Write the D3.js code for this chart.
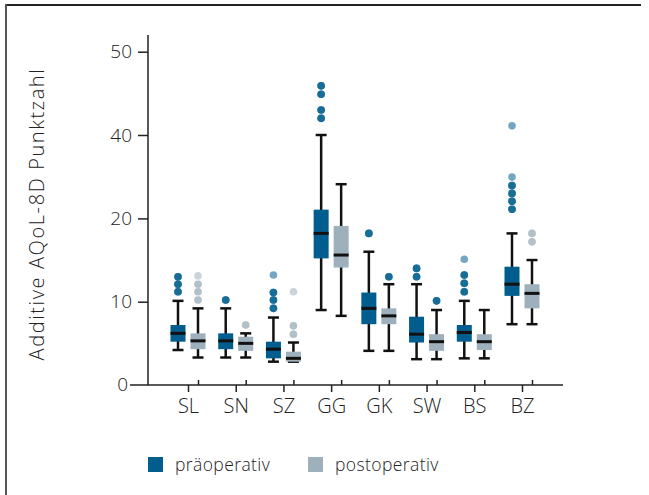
<!DOCTYPE html>
<html>
<head>
<meta charset="utf-8">
<script src="https://cdn.jsdelivr.net/npm/d3@7"></script>
<style>
  body { margin: 0; background: #fff; }
  svg text { font-family: "Open Sans", "Noto Sans", sans-serif; font-weight: 300; fill: #222; }
</style>
</head>
<body>
<div id="chart"></div>
<script>
// Categories and tick labels
const categories = ["SL", "SN", "SZ", "GG", "GK", "SW", "BS", "BZ"];
const yTicks = [0, 10, 20, 40, 50];

// präoperativ box statistics
const preLow = [4.2, 3.3, 2.8, 9.0, 4.1, 3.1, 3.2, 7.3];
const preQ1 = [5.2, 4.3, 3.2, 15.2, 7.3, 5.1, 5.2, 10.7];
const preMedian = [6.2, 5.3, 4.3, 18.2, 9.2, 6.1, 6.3, 12.1];
const preQ3 = [7.2, 6.2, 5.2, 22.1, 11.1, 8.2, 7.2, 14.2];
const preHigh = [10.1, 9.2, 8.1, 40, 16.0, 12.1, 10.1, 18.2];
// outliers (repeated values = overlapping points)
const preOutliers = [
  [13, 13, 13, 12.1, 12.1, 12.1, 11.2, 11.2, 11.2],
  [10.2, 10.2, 10.2],
  [13.2, 11.1, 11.1, 11.1, 10.2, 10.2, 10.2, 9.2, 9.2, 9.2],
  [45.9, 45.9, 45.9, 44.9, 44.9, 44.9, 43, 43, 43, 42, 42, 42],
  [18.2, 18.2, 18.2],
  [14, 14, 14, 13, 13, 13],
  [15.1, 13.2, 13.2, 13.2, 12.2, 12.2, 12.2, 11.2, 11.2, 11.2],
  [41.1, 29.9, 27.9, 27.9, 27.9, 26, 26, 26, 24.1, 24.1, 24.1, 22.2, 22.2, 22.2]
];

// postoperativ box statistics
const postLow = [3.3, 3.3, 2.8, 8.3, 4.1, 3.1, 3.2, 7.3];
const postQ1 = [4.3, 4.1, 2.8, 14.1, 7.3, 4.1, 4.2, 9.2];
const postMedian = [5.3, 5.0, 3.2, 15.6, 8.3, 5.2, 5.2, 11.0];
const postQ3 = [6.2, 5.8, 4.0, 19.1, 9.2, 6.1, 6.1, 12.1];
const postHigh = [9.2, 6.2, 5.1, 28.2, 12.1, 9.0, 9.0, 15.0];
const postOutliers = [
  [13.1, 12.1, 12.1, 11.2, 11.2, 10.2, 10.2],
  [7.2, 7.2],
  [11.2, 7.1, 7.1, 6.1, 6.1],
  [],
  [13.0, 13.0, 13.0],
  [10.1, 10.1, 10.1],
  [],
  [18.2, 18.2, 17.2, 17.2]
];
// post outliers drawn in the pre colour in the original figure
const postOutlierBlue = [false, false, false, false, true, true, false, false];

const seriesNames = ["präoperativ", "postoperativ"];
const colors = ["#005d8e", "#9eb0bb"];

const width = 649;
const height = 495;

const svg = d3.select("#chart").append("svg")
  .attr("width", width)
  .attr("height", height);

// frame
svg.append("line").attr("x1", 6).attr("x2", 641).attr("y1", 5).attr("y2", 5)
  .attr("stroke", "#222").attr("stroke-width", 2);
svg.append("line").attr("x1", 6).attr("x2", 6).attr("y1", 4).attr("y2", height)
  .attr("stroke", "#555").attr("stroke-width", 2);

// scales
const x = d3.scalePoint().domain(categories).range([188, 522]);
const xPost = x.copy().range([198, 532]);
const offset = 10;
const boxW = 15;
const capW = 11;

// axis labelled 0,10,20,40,50 at even spacing
const y = d3.scaleLinear().domain(yTicks).range([385, 301.7, 218.4, 135, 51.7]);

// y axis
svg.append("g")
  .attr("transform", "translate(148,0)")
  .call(d3.axisLeft(y).tickValues(yTicks.slice(1)).tickSize(10).tickPadding(6).tickSizeOuter(0))
  .call(g => g.select(".domain").remove())
  .call(g => g.selectAll(".tick line").attr("stroke", "#222").attr("stroke-width", 1.5))
  .call(g => g.selectAll("text").attr("font-size", 19).attr("fill", "#222"));
svg.append("line").attr("x1", 148).attr("x2", 148).attr("y1", 35).attr("y2", y(0))
  .attr("stroke", "#222").attr("stroke-width", 1.5);
svg.append("text")
  .attr("x", 128).attr("y", y(0)).attr("dy", "0.32em")
  .attr("text-anchor", "end").attr("font-size", 19).text("0");

// x axis
svg.append("line").attr("x1", 130).attr("x2", 563).attr("y1", y(0)).attr("y2", y(0))
  .attr("stroke", "#222").attr("stroke-width", 1.5);
svg.append("g")
  .attr("transform", `translate(0,${y(0)})`)
  .call(d3.axisBottom(x).tickSize(7).tickPadding(7).tickSizeOuter(0))
  .call(g => g.select(".domain").remove())
  .call(g => g.selectAll(".tick line").attr("stroke", "#222").attr("stroke-width", 1.5))
  .call(g => g.selectAll("text").attr("font-size", 20).attr("fill", "#222"));
svg.append("g")
  .attr("transform", `translate(0,${y(0)})`)
  .call(d3.axisTop(xPost).tickSize(5).tickFormat("").tickSizeOuter(0))
  .call(g => g.select(".domain").remove())
  .call(g => g.selectAll(".tick line").attr("stroke", "#222").attr("stroke-width", 1.5));

// y label
svg.append("text")
  .attr("transform", "translate(44,214) rotate(-90)")
  .attr("text-anchor", "middle")
  .attr("font-size", 20)
  .attr("letter-spacing", 1.6)
  .text("Additive AQoL-8D Punktzahl");

// build box data
const boxes = [];
categories.forEach((c, i) => {
  boxes.push({ cat: c, s: 0, low: preLow[i], q1: preQ1[i], med: preMedian[i], q3: preQ3[i], high: preHigh[i],
    out: preOutliers[i], outColor: colors[0] });
  boxes.push({ cat: c, s: 1, low: postLow[i], q1: postQ1[i], med: postMedian[i], q3: postQ3[i], high: postHigh[i],
    out: postOutliers[i], outColor: postOutlierBlue[i] ? colors[0] : colors[1] });
});
const cx = d => x(d.cat) + (d.s === 0 ? -offset : offset);

const g = svg.append("g").selectAll("g")
  .data(boxes)
  .enter()
  .append("g");

// whiskers
g.append("line")
  .attr("x1", cx).attr("x2", cx)
  .attr("y1", d => y(d.low)).attr("y2", d => y(d.high))
  .attr("stroke", "#111").attr("stroke-width", 2.5);
g.append("line")
  .attr("x1", d => cx(d) - capW / 2).attr("x2", d => cx(d) + capW / 2)
  .attr("y1", d => y(d.high)).attr("y2", d => y(d.high))
  .attr("stroke", "#111").attr("stroke-width", 2.5);
g.append("line")
  .attr("x1", d => cx(d) - capW / 2).attr("x2", d => cx(d) + capW / 2)
  .attr("y1", d => y(d.low)).attr("y2", d => y(d.low))
  .attr("stroke", "#111").attr("stroke-width", 2.5);

// boxes
g.append("rect")
  .attr("x", d => cx(d) - boxW / 2)
  .attr("width", boxW)
  .attr("y", d => y(d.q3))
  .attr("height", d => Math.max(1, y(d.q1) - y(d.q3)))
  .attr("fill", d => colors[d.s]);

// medians
g.append("line")
  .attr("x1", d => cx(d) - boxW / 2).attr("x2", d => cx(d) + boxW / 2)
  .attr("y1", d => y(d.med)).attr("y2", d => y(d.med))
  .attr("stroke", "#111").attr("stroke-width", 3);

// outliers
g.selectAll("circle")
  .data(d => d.out.map(v => ({ v, d })))
  .enter()
  .append("circle")
  .attr("cx", o => cx(o.d))
  .attr("cy", o => y(o.v))
  .attr("r", 3.8)
  .attr("fill", o => o.d.outColor)
  .attr("fill-opacity", 0.55);

// legend
const legend = svg.append("g").selectAll("g")
  .data(seriesNames)
  .enter()
  .append("g")
  .attr("transform", (d, i) => `translate(${[148, 308][i]},457)`);
legend.append("rect").attr("width", 15).attr("height", 15).attr("fill", (d, i) => colors[i]);
legend.append("text").attr("x", 27).attr("y", 14).attr("font-size", 17.5).attr("letter-spacing", 0.4).text(d => d);
</script>
</body>
</html>
